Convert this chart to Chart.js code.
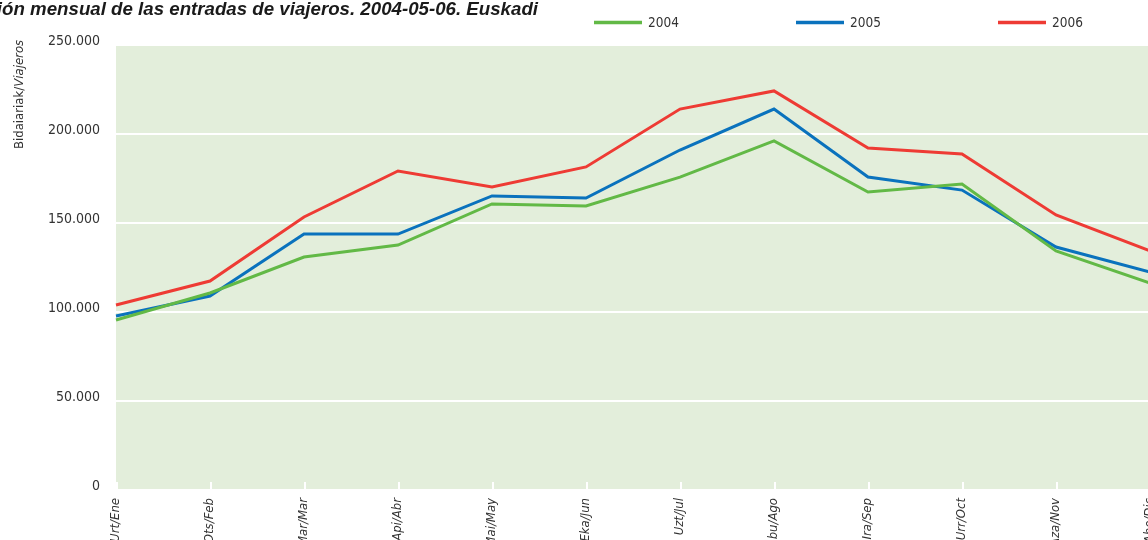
<!DOCTYPE html>
<html><head><meta charset="utf-8">
<script src="https://cdn.jsdelivr.net/npm/chart.js@4.4.1/dist/chart.umd.min.js"></script>
<style>
html,body{margin:0;padding:0;background:#fff;overflow:hidden}
#wrap{position:relative;width:1148px;height:540px;overflow:hidden}
canvas{position:absolute;left:0;top:0}
</style></head><body>
<div id="wrap"><canvas id="c" width="1150" height="560"></canvas></div>
<script>
const months = ['Urt/Ene','Ots/Feb','Mar/Mar','Api/Abr','Mai/May','Eka/Jun','Uzt/Jul','Abu/Ago','Ira/Sep','Urr/Oct','Aza/Nov','Abe/Dic'];
const years = ['2004','2005','2006'];
const v2004 = [95500,110700,130900,137600,160700,159600,175800,196100,167400,171900,134300,116300];
const v2005 = [97800,109000,143800,143800,165200,164000,191000,214000,175800,168500,136500,122500];
const v2006 = [103900,117400,153400,179200,170200,181500,214000,224200,192100,188800,154500,134300];
const yTickValues = [0,50000,100000,150000,200000,250000];
const titleText = 'Evolución mensual de las entradas de viajeros. 2004-05-06. Euskadi';
const yTitleA = 'Bidaiariak/';
const yTitleB = 'Viajeros';

const colors = ['#62b946','#0a72bd','#ee3b34'];
const FONT = "'Liberation Sans Narrow','DejaVu Sans Condensed','Roboto Condensed',sans-serif";
const fmt = v => v.toString().replace(/\B(?=(\d{3})+(?!\d))/g, '.');

const bgPlugin = {
  id: 'bg',
  beforeDraw(chart) {
    const {ctx, chartArea: a} = chart;
    ctx.save();
    ctx.fillStyle = '#e3eedb';
    ctx.fillRect(a.left, a.top, a.right - a.left, a.bottom - a.top);
    ctx.restore();
  },
  beforeDatasetsDraw(chart) {
    const {ctx, chartArea: a, scales} = chart;
    const x = scales.x;
    ctx.save();
    ctx.strokeStyle = '#ffffff';
    ctx.lineWidth = 2;
    x.ticks.forEach((t, i) => {
      const px = Math.round(x.getPixelForTick(i)) + 1;
      ctx.beginPath();
      ctx.moveTo(px, a.bottom - 8);
      ctx.lineTo(px, a.bottom);
      ctx.stroke();
    });
    ctx.restore();
  }
};

const textPlugin = {
  id: 'texts',
  afterDraw(chart) {
    const ctx = chart.ctx;
    ctx.save();
    ctx.fillStyle = '#1a1a1a';
    ctx.font = "italic bold 18.7px 'Liberation Sans', Arial, sans-serif";
    ctx.textAlign = 'right';
    ctx.textBaseline = 'alphabetic';
    ctx.fillText(titleText, 538, 15);

    ctx.save();
    ctx.translate(23, 149);
    ctx.rotate(-Math.PI / 2);
    ctx.textAlign = 'left';
    ctx.fillStyle = '#333333';
    ctx.font = '13px ' + FONT;
    ctx.fillText(yTitleA, 0, 0);
    const w = ctx.measureText(yTitleA).width;
    ctx.font = 'italic 13px ' + FONT;
    ctx.fillText(yTitleB, w, 0);
    ctx.restore();

    const starts = [594, 796, 998];
    chart.data.datasets.forEach((ds, i) => {
      const x0 = starts[i];
      ctx.strokeStyle = ds.borderColor;
      ctx.lineWidth = 3.5;
      ctx.beginPath();
      ctx.moveTo(x0, 22.5);
      ctx.lineTo(x0 + 48, 22.5);
      ctx.stroke();
      ctx.fillStyle = '#333333';
      ctx.font = '13.5px ' + FONT;
      ctx.textAlign = 'left';
      ctx.textBaseline = 'middle';
      ctx.fillText(ds.label, x0 + 54, 23);
    });
    ctx.restore();
  }
};

const datasets = [v2004, v2005, v2006].map((d, i) => ({
  label: years[i],
  data: d,
  borderColor: colors[i],
  backgroundColor: colors[i],
  borderWidth: 3,
  pointRadius: 0,
  tension: 0,
  fill: false
}));

new Chart(document.getElementById('c'), {
  type: 'line',
  data: { labels: months, datasets },
  options: {
    responsive: false,
    animation: false,
    layout: { padding: { top: 45, left: 0, right: 0, bottom: 0 } },
    plugins: { legend: { display: false }, title: { display: false }, tooltip: { enabled: false } },
    scales: {
      x: {
        offset: false,
        grid: { display: false },
        border: { display: false },
        ticks: {
          autoSkip: false,
          maxRotation: 90, minRotation: 90,
          padding: 0,
          color: '#333333',
          font: { family: FONT, size: 13, style: 'italic' }
        },
        afterFit(s) { s.height = 70; s.paddingLeft = 0; s.paddingRight = 0; }
      },
      y: {
        min: 0, max: 250000,
        afterBuildTicks(s) { s.ticks = yTickValues.map(v => ({ value: v })); },
        grid: { color: '#ffffff', lineWidth: 2, drawTicks: false },
        border: { display: false },
        ticks: {
          padding: 16,
          labelOffset: -4,
          color: '#333333',
          font: { family: FONT, size: 14 },
          callback: v => fmt(v)
        },
        afterFit(s) { s.width = 116; s.paddingTop = 0; s.paddingBottom = 0; }
      }
    }
  },
  plugins: [bgPlugin, textPlugin]
});
</script>
</body></html>
